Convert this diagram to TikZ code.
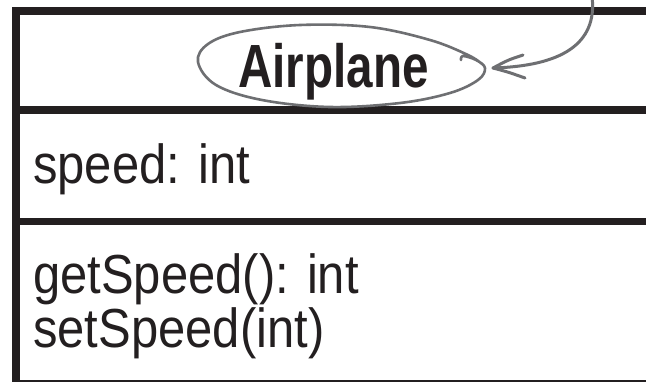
\documentclass[tikz,border=0pt]{standalone}
\usepackage{fontspec}
\setmainfont{Liberation Sans}
\usepackage{graphicx}
\definecolor{ink}{HTML}{231F20}
\definecolor{pen}{HTML}{6E6F72}
\begin{document}
\begin{tikzpicture}[x=1pt,y=-1pt,
  frame/.style={draw=ink,line width=8pt},
  memb/.style={anchor=base west,inner sep=0pt,text=ink,font=\fontsize{55}{60}\selectfont},
  pencil/.style={draw=pen,line width=3pt,line cap=round,line join=round}]
\useasboundingbox (0,0) rectangle (646,381);
\fill[white] (0,0) rectangle (646,381);
% class box
\draw[frame] (660,11) -- (16,11) -- (16,395);
\draw[frame] (16,110) -- (660,110);
\draw[frame,line width=7pt] (16,221.5) -- (660,221.5);
\draw[frame] (16,384) -- (660,384);
% texts
\node[anchor=base west,inner sep=0pt,text=ink,font=\fontsize{61}{66}\selectfont\bfseries] (name) at (238,87) {\scalebox{0.78}[1]{Airplane}};
\node[memb] (attr) at (33,183) {\scalebox{0.89}[1]{speed: int}};
\node[memb] (m1) at (33,293) {\scalebox{0.89}[1]{getSpeed(): int}};
\node[memb] (m2) at (33,347) {\scalebox{0.89}[1]{setSpeed(int)}};
% hand-drawn ellipse
\draw[pencil,line width=2.6pt] plot[smooth,tension=0.6] coordinates {(461,60) (463,56) (476,60) (485,68) (478,80) (450,93) (400,103) (330,107) (262,100) (216,85) (198,62) (208,44) (240,32) (300,25) (370,27) (430,40) (468,55) (482,64)};
% arrow
\coordinate (src) at (592,-4);
\coordinate (tip) at (493,68);
\coordinate (b1) at (523,55);
\coordinate (b2) at (525,78);
\draw[pencil] (src) .. controls (598,45) and (560,66) .. (tip);
\draw[pencil] (b1) .. controls (508,60) .. (tip) .. controls (508,72) .. (b2);
\end{tikzpicture}
\end{document}
